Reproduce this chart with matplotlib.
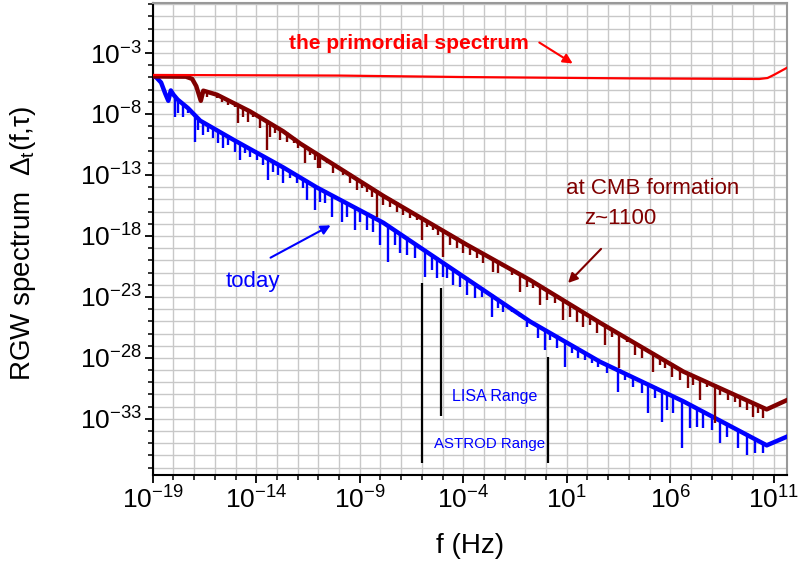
import numpy as np
import matplotlib
matplotlib.use('Agg')
import matplotlib.pyplot as plt
from matplotlib.ticker import FixedLocator, FuncFormatter, NullFormatter

plt.rcParams['font.family'] = ['Liberation Sans', 'DejaVu Sans']
plt.rcParams['mathtext.fontset'] = 'custom'
plt.rcParams['mathtext.rm'] = 'Liberation Sans'
plt.rcParams['mathtext.it'] = 'Liberation Sans:italic'

# values, as log10(f) and log10(spectrum)
red_lf = [-19, -10, -4, 4, 10.3, 10.7, 11.0, 11.65]
red_ly = [-4.8, -4.85, -4.97, -5.08, -5.13, -5.05, -4.8, -4.2]

brown_lf = [-19, -17.4, -17.1, -16.9, -16.68, -16.56, -16.4, -15.9, -14.3,
            -12.7, -11.88, -7.86, -3.83, -0.77, 2.61, 6.63, 10.66, 11.69]
brown_ly = [-4.8, -4.82, -5.0, -5.6, -6.8, -5.97, -6.05, -6.3, -7.67,
            -9.3, -10.3, -14.6, -18.6, -21.5, -25.0, -29.0, -32.1, -31.3]

blue_lf = [-19, -18.85, -18.6, -18.4, -18.25, -18.13, -18.0, -17.8, -17.3,
           -16.71, -15.1, -12.7, -11.08, -7.86, -3.83, -0.77, 2.61, 6.63,
           10.66, 11.69]
blue_ly = [-4.8, -4.85, -5.3, -6.2, -6.8, -5.95, -6.3, -6.7, -7.4,
           -8.43, -10.0, -12.26, -13.9, -16.8, -21.4, -24.9, -28.2, -31.44,
           -35.05, -34.3]

# dips (position, bottom) of the oscillating spectra
brown_dip_lf = [-16.36, -16.15, -15.91, -15.67, -15.35, -15.02, -14.86, -14.62,
                -14.38, -14.14, -13.82, -13.49, -13.33, -13.09, -12.85, -12.53,
                -12.2, -11.97, -11.64, -11.4, -11.16, -11.0, -10.92, -10.59,
                -10.27, -9.79, -9.47, -9.14, -8.9, -8.66, -8.42, -8.18, -7.86,
                -7.54, -7.21, -6.89, -6.57, -6.25, -6.0, -5.76, -5.44, -5.2,
                -4.96, -4.64, -4.31, -3.99, -3.67, -3.35, -3.03, -2.55, -2.3,
                -2.06, -1.66, -1.26, -0.93, -0.61, -0.29, 0.03, 0.44, 0.84,
                1.16, 1.48, 1.8, 2.13, 2.45, 2.85, 3.17, 3.54, 3.9, 4.3, 4.62,
                4.86, 5.18, 5.51, 5.75, 6.07, 6.47, 6.87, 7.12, 7.44, 7.76,
                8.16, 8.41, 8.81, 9.13, 9.37, 9.7, 10.02, 10.26, 10.5]
brown_dip_ly = [-6.58, -6.44, -6.71, -7.0, -7.26, -7.4, -8.76, -8.22,
                -8.63, -8.22, -9.18, -10.95, -9.86, -9.58, -10.13, -10.27,
                -10.4, -10.8, -12.03, -11.36, -11.77, -12.45, -12.45, -12.04,
                -12.86, -13.0, -13.68, -14.23, -14.09, -14.37, -14.78, -16.47, -15.46,
                -15.6, -16.0, -16.28, -16.55, -16.69, -18.33, -17.24, -17.5, -17.92,
                -19.7, -18.74, -19.0, -19.42, -19.56, -19.83, -20.24, -20.93, -21.06,
                -20.52, -21.2, -22.57, -22.16, -22.3, -23.66, -23.25, -23.52, -24.89,
                -24.62, -25.02, -25.43, -25.3, -25.98, -26.93, -26.25, -28.84, -26.66, -27.75, -28.02,
                -27.48, -29.12, -28.57, -28.84, -29.53, -29.8, -30.48, -30.21, -31.44, -30.35,
                -33.35, -31.03, -31.44, -31.58, -31.99, -32.26, -32.81, -32.54, -32.95]

blue_dip_lf = [-17.92, -17.76, -17.52, -17.28, -16.96, -16.8, -16.56, -16.31,
               -16.07, -15.83, -15.59, -15.35, -15.02, -14.78, -14.54, -14.3,
               -13.98, -13.66, -13.42, -13.17, -12.93, -12.69, -12.37, -12.04,
               -11.72, -11.56, -11.16, -10.92, -10.68, -10.35, -9.87, -9.63,
               -9.23, -8.99, -8.66, -8.34, -8.02, -7.62, -7.29, -7.05, -6.73,
               -6.33, -5.85, -5.52, -5.28, -4.96, -4.8, -4.48, -4.15, -3.83,
               -3.43, -3.11, -2.62, -2.3, -2.06, -1.66, -1.26, -0.93, -0.69,
               -0.37, -0.05, 0.19, 0.52, 0.92, 1.24, 1.56, 1.88, 2.21, 2.53,
               2.93, 3.49, 3.82, 4.22, 4.62, 4.94, 5.27, 5.59, 5.83, 6.15,
               6.56, 6.96, 7.28, 7.6, 8.0, 8.41, 8.73, 9.29, 9.7, 10.1, 10.5]
blue_dip_ly = [-8.25, -7.94, -8.25, -7.92, -10.27, -9.31, -9.72, -9.45,
               -10.0, -10.4, -10.81, -10.54, -11.09, -11.77, -11.22, -11.5,
               -11.77, -12.18, -13.41, -12.73, -13.0, -13.68, -13.27, -13.68,
               -14.09, -15.05, -15.87, -15.19, -15.32, -16.42, -16.83, -16.42,
               -17.51, -16.83, -17.51, -17.65, -18.74, -20.11, -18.74, -19.42, -19.56,
               -19.83, -21.34, -20.79, -21.47, -21.34, -21.47, -22.02, -22.16, -22.84,
               -23.11, -22.98, -24.61, -23.93, -24.2, -24.2, -24.61, -25.43, -25.16,
               -26.39, -27.34, -26.52, -27.2, -28.71, -27.61, -28.02, -28.16, -28.44, -28.71,
               -29.25, -30.76, -29.8, -30.35, -30.9, -32.54, -31.3, -33.22, -32.26, -32.54,
               -35.4, -33.76, -33.63, -33.76, -33.9, -34.99, -34.45, -35.4, -35.95, -35.81, -35.81]

# detector ranges (vertical black bars)
range_lf = [-6.0, -5.07, 0.1]
range_top = [-21.85, -22.3, -27.9]
range_bot = [-36.6, -32.8, -36.6]

RED = '#ff0000'
BROWN = '#800000'
BLUE = '#0000ff'

fig = plt.figure(figsize=(8, 5.67), dpi=100)
ax = fig.add_axes([0.191, 0.1623, 0.793, 0.8324])
ax.set_xscale('log')
ax.set_yscale('log')


def draw(lf, ly, dlf, dly, color):
    lf = np.array(lf)
    ly = np.array(ly)
    # thick band: the spectrum oscillates densely just below its upper edge
    ax.plot(10.0 ** lf, 10.0 ** (ly - 0.12), color=color, lw=3.2, zorder=3)
    dlf = np.array(dlf)
    top = np.interp(dlf, lf, ly)
    ax.vlines(10.0 ** dlf, 10.0 ** np.array(dly), 10.0 ** top,
              color=color, lw=1.7, zorder=3)


draw(blue_lf, blue_ly, blue_dip_lf, blue_dip_ly, BLUE)
draw(brown_lf, brown_ly, brown_dip_lf, brown_dip_ly, BROWN)
ax.plot(10.0 ** np.array(red_lf), 10.0 ** np.array(red_ly), color=RED, lw=1.6, zorder=4)

ax.vlines(10.0 ** np.array(range_lf), 10.0 ** np.array(range_bot),
          10.0 ** np.array(range_top), color='black', lw=1.6, zorder=3)

ax.set_xlim(1e-19, 10 ** 11.65)
ax.set_ylim(10 ** -37.6, 10 ** 1.1)

ax.xaxis.set_major_locator(FixedLocator(10.0 ** np.arange(-19, 12, 5)))
ax.xaxis.set_minor_locator(FixedLocator(10.0 ** np.arange(-19, 12)))
ax.yaxis.set_major_locator(FixedLocator(10.0 ** np.arange(-33, -2, 5)))
ax.yaxis.set_minor_locator(FixedLocator(10.0 ** np.arange(-37, 2)))
fmt = FuncFormatter(lambda v, _: r'$\mathregular{10^{%d}}$' % round(np.log10(v)))
ax.xaxis.set_major_formatter(fmt)
ax.yaxis.set_major_formatter(fmt)
ax.xaxis.set_minor_formatter(NullFormatter())
ax.yaxis.set_minor_formatter(NullFormatter())

ax.grid(True, which='both', color='#c8c8c8', lw=1.0, zorder=0)
ax.set_axisbelow(True)
ax.tick_params(which='both', direction='out', top=False, right=False, labelsize=19)
ax.tick_params(which='major', length=6, width=1.3, pad=2)
ax.tick_params(which='minor', length=3.5, width=1.1)
for s in ['left', 'bottom']:
    ax.spines[s].set_linewidth(1.5)
for s in ['top', 'right']:
    ax.spines[s].set_color('#999999')
    ax.spines[s].set_linewidth(1.5)

ax.set_xlabel('f (Hz)', fontsize=20)
ax.xaxis.set_label_coords(0.5, -0.123)
ax.set_ylabel(r'RGW spectrum  Δ$_{\mathregular{t}}$(f,τ)', fontsize=20)
ax.yaxis.set_label_coords(-0.181, 0.49)

# annotations
ax.text(10 ** -12.42, 10 ** -2.18, 'the primordial spectrum', color=RED,
        fontsize=15, fontweight='bold', ha='left', va='center')
ax.annotate('', xy=(10 ** 1.40, 10 ** -3.98), xytext=(10 ** -0.44, 10 ** -2.02),
            arrowprops=dict(arrowstyle='-|>', color=RED, lw=1.5, mutation_scale=14))
ax.text(10 ** 5.14, 10 ** -14.15, 'at CMB formation', color=BROWN,
        fontsize=16, ha='center', va='center')
ax.text(10 ** 3.57, 10 ** -16.6, 'z~1100', color=BROWN,
        fontsize=16, ha='center', va='center')
ax.annotate('', xy=(10 ** 0.97, 10 ** -22.02), xytext=(10 ** 2.75, 10 ** -18.9),
            arrowprops=dict(arrowstyle='-|>', color=BROWN, lw=1.5, mutation_scale=14))
ax.text(10 ** -14.15, 10 ** -21.7, 'today', color=BLUE,
        fontsize=16, ha='center', va='center')
ax.annotate('', xy=(10 ** -10.29, 10 ** -17.02), xytext=(10 ** -13.43, 10 ** -19.89),
            arrowprops=dict(arrowstyle='-|>', color=BLUE, lw=1.5, mutation_scale=14))
ax.text(10 ** -4.54, 10 ** -31.2, 'LISA Range', color=BLUE,
        fontsize=11.5, ha='left', va='center')
ax.text(10 ** -5.41, 10 ** -35.05, 'ASTROD Range', color=BLUE,
        fontsize=10.8, ha='left', va='center')

fig.savefig('out.png', dpi=100)
